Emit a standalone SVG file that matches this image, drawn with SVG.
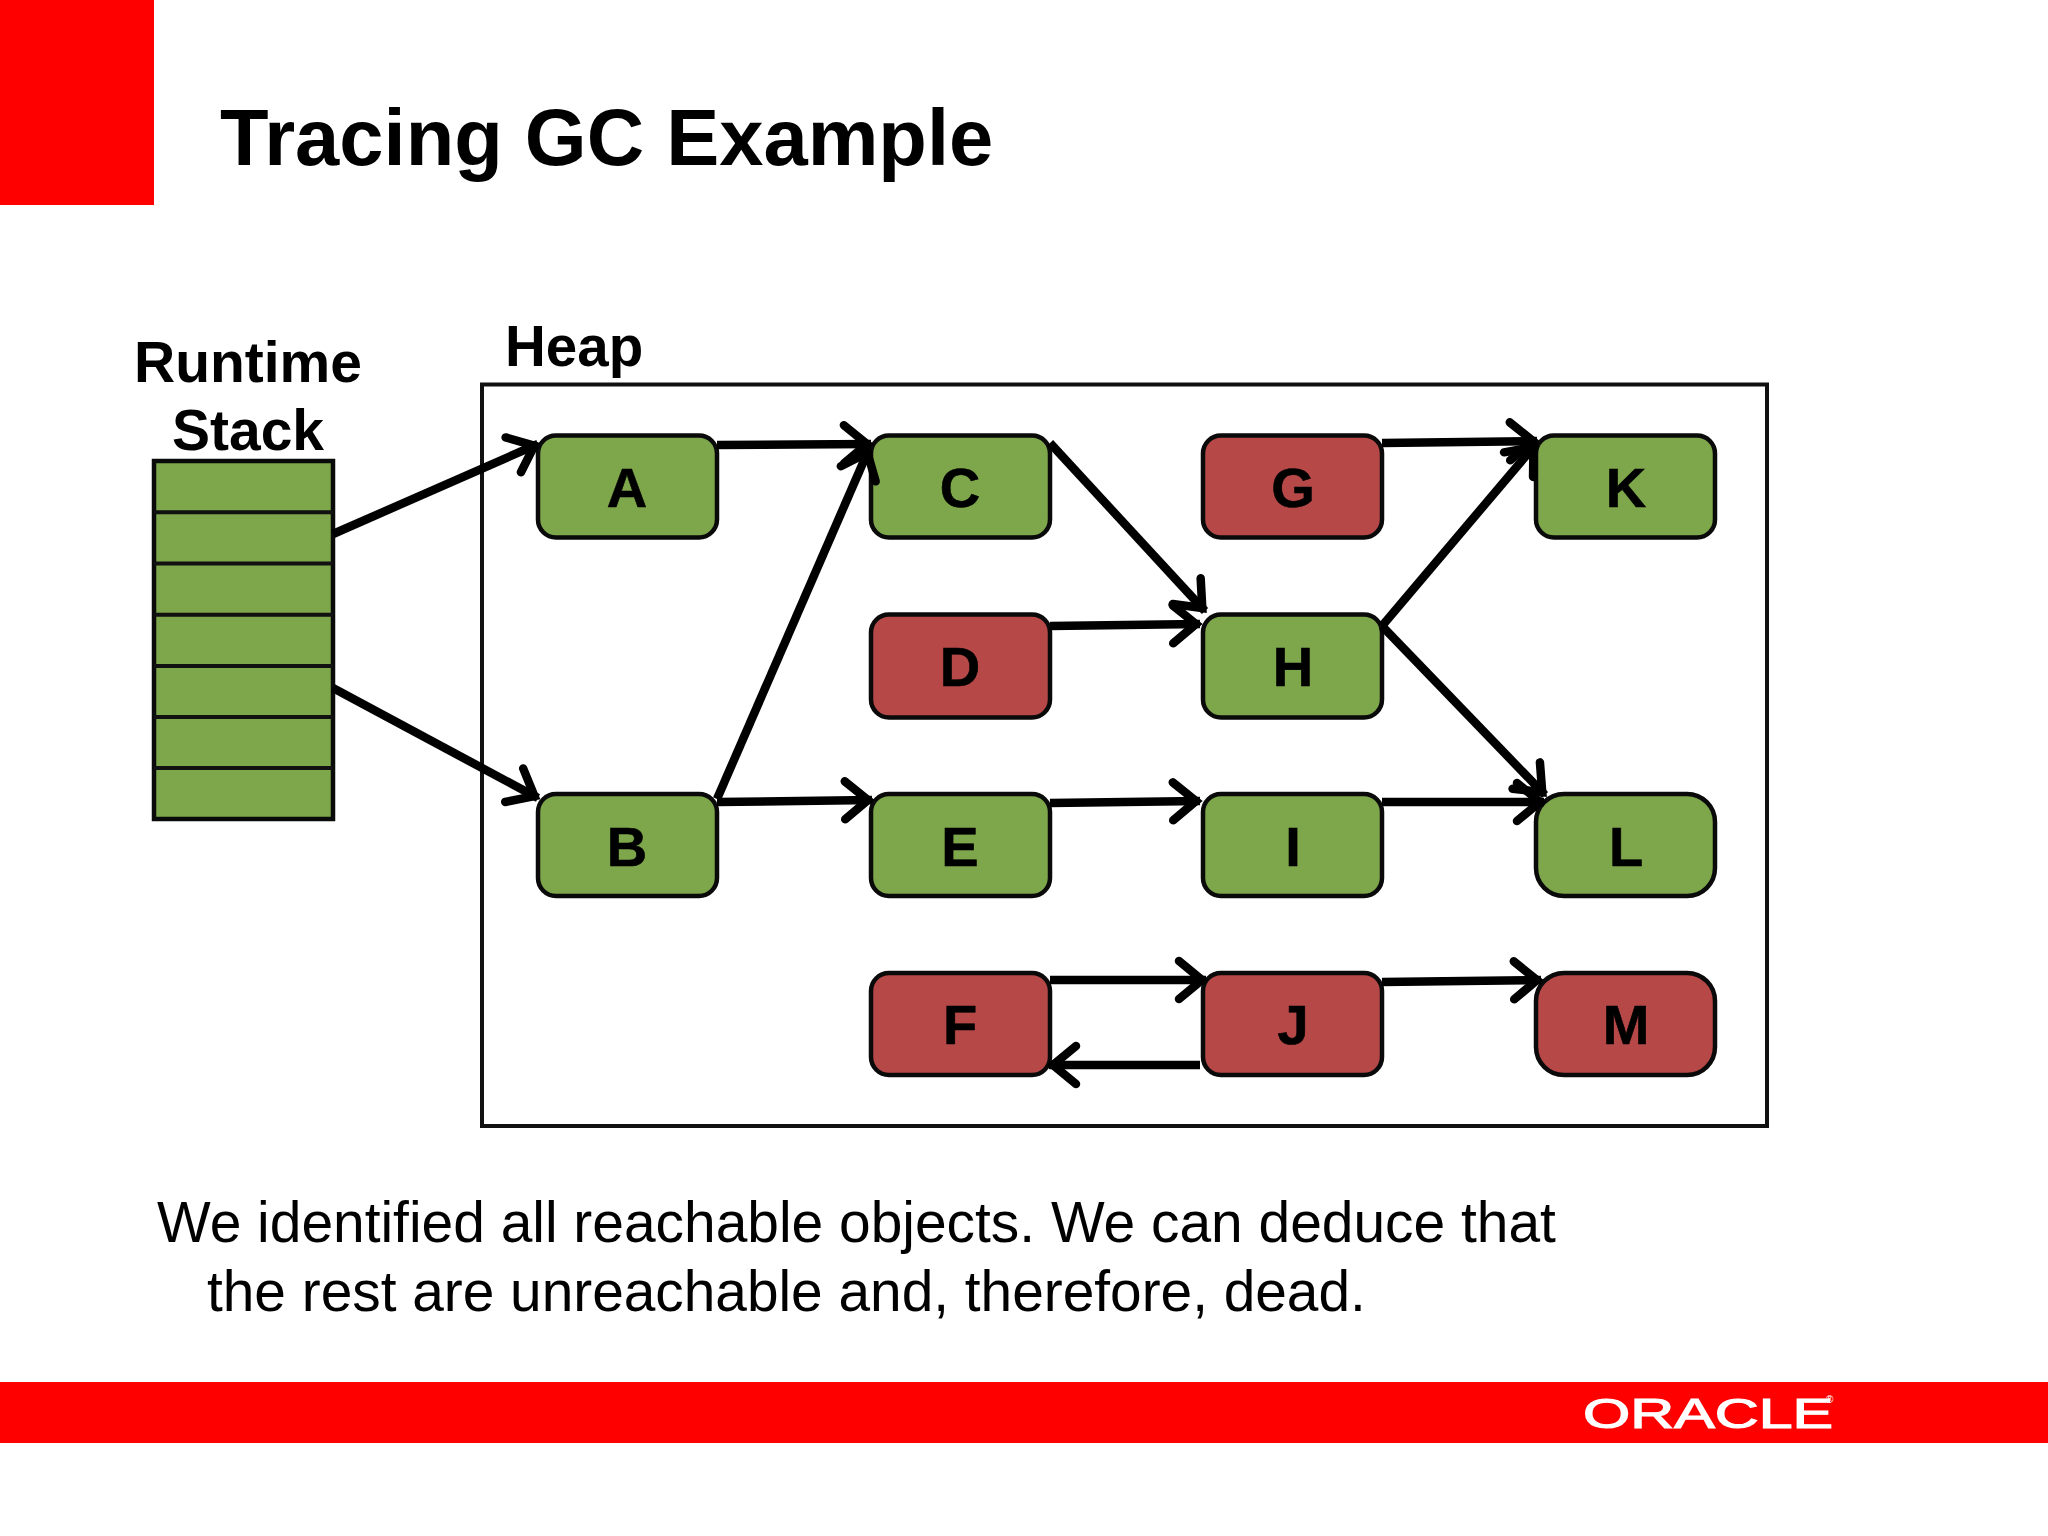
<svg xmlns="http://www.w3.org/2000/svg" width="2048" height="1536" viewBox="0 0 2048 1536">
<style>
text{font-family:"Liberation Sans",Arial,sans-serif;fill:#000}
.b{font-weight:bold}
.n{font-weight:bold;font-size:56px;text-anchor:middle;stroke:#000;stroke-width:.6}
.box{stroke:#0a0a0a;stroke-width:4.5}
.g{fill:#7ea64a}
.r{fill:#b74848}
.c line{stroke:#000;stroke-width:8.5;marker-end:url(#ah)}
</style>
<defs>
<marker id="ah" markerUnits="userSpaceOnUse" markerWidth="50" markerHeight="50" refX="38" refY="25" orient="auto">
<path d="M11 6L34 25L11 44" fill="none" stroke="#000" stroke-width="8.5" stroke-linecap="round"/>
</marker>
</defs>
<rect width="2048" height="1536" fill="#fff"/>
<rect id="corner" width="154" height="205" fill="#f00"/>
<rect id="footer" y="1382" width="2048" height="61" fill="#f00"/>
<text id="title" class="b" x="220" y="165" font-size="79.500">Tracing GC Example</text>
<text class="b" font-size="57" text-anchor="middle" x="248" y="382">Runtime</text>
<text class="b" font-size="57" text-anchor="middle" x="248" y="450">Stack</text>
<text class="b" font-size="56.500" x="505" y="366">Heap</text>
<rect id="heap" x="482" y="384.500" width="1285" height="741.500" fill="none" stroke="#111" stroke-width="4"/>
<g id="stack">
<rect class="g box" x="154" y="461" width="179" height="358"/>
<path d="M154 512.300H333M154 563.600H333M154 614.700H333M154 666H333M154 717H333M154 768H333" stroke="#111" stroke-width="4" fill="none"/>
</g>
<g id="A"><rect class="g box" x="538" y="435.500" width="179" height="102" rx="18"/><text class="n" x="627" y="507">A</text></g>
<g id="B"><rect class="g box" x="538" y="794" width="179" height="102" rx="18"/><text class="n" x="627" y="866">B</text></g>
<g id="C"><rect class="g box" x="871" y="435.500" width="179" height="102" rx="18"/><text class="n" x="960" y="507">C</text></g>
<g id="D"><rect class="r box" x="871" y="614.500" width="179" height="103" rx="18"/><text class="n" x="960" y="686">D</text></g>
<g id="E"><rect class="g box" x="871" y="794" width="179" height="102" rx="18"/><text class="n" x="960" y="866">E</text></g>
<g id="F"><rect class="r box" x="871" y="973" width="179" height="102" rx="18"/><text class="n" x="960" y="1044">F</text></g>
<g id="G"><rect class="r box" x="1203" y="435.500" width="179" height="102" rx="18"/><text class="n" x="1293" y="507">G</text></g>
<g id="H"><rect class="g box" x="1203" y="614.500" width="179" height="103" rx="18"/><text class="n" x="1293" y="686">H</text></g>
<g id="I"><rect class="g box" x="1203" y="794" width="179" height="102" rx="18"/><text class="n" x="1293" y="866">I</text></g>
<g id="J"><rect class="r box" x="1203" y="973" width="179" height="102" rx="18"/><text class="n" x="1293" y="1044">J</text></g>
<g id="K"><rect class="g box" x="1536" y="435.500" width="179" height="102" rx="18"/><text class="n" x="1626" y="507">K</text></g>
<g id="L"><rect class="g box" x="1536" y="794" width="179" height="102" rx="28"/><text class="n" x="1626" y="866">L</text></g>
<g id="M"><rect class="r box" x="1536" y="973" width="179" height="102" rx="28"/><text class="n" x="1626" y="1044">M</text></g>
<g id="connectors" class="c">
<line x1="333" y1="534" x2="538" y2="444"/>
<line x1="333" y1="688" x2="538" y2="798"/>
<line x1="717" y1="445" x2="871" y2="444"/>
<line x1="717" y1="799" x2="869" y2="449"/>
<line x1="717" y1="802" x2="872" y2="800"/>
<line x1="1050" y1="443" x2="1205" y2="611"/>
<line x1="1050" y1="626" x2="1200" y2="624"/>
<line x1="1050" y1="803" x2="1200" y2="801"/>
<line x1="1382" y1="802" x2="1544" y2="802"/>
<line x1="1382" y1="626" x2="1545" y2="795"/>
<line x1="1382" y1="626" x2="1536" y2="444"/>
<line x1="1382" y1="443" x2="1537" y2="441"/>
<line x1="1050" y1="980" x2="1206" y2="980"/>
<line x1="1200" y1="1065" x2="1049" y2="1065"/>
<line x1="1382" y1="982" x2="1541" y2="980"/>
</g>
<text class="body" x="157" y="1242" font-size="56.900">We identified all reachable objects. We can deduce that</text>
<text class="body" x="207" y="1311" font-size="56.800">the rest are unreachable and, therefore, dead.</text>
<g id="logo"><text x="1583" y="1428" font-size="43" textLength="250" lengthAdjust="spacingAndGlyphs" style="fill:#fff;stroke:#fff;stroke-width:1.200">ORACLE</text><text x="1826" y="1403" font-size="10" style="fill:#fff">®</text></g>
</svg>
